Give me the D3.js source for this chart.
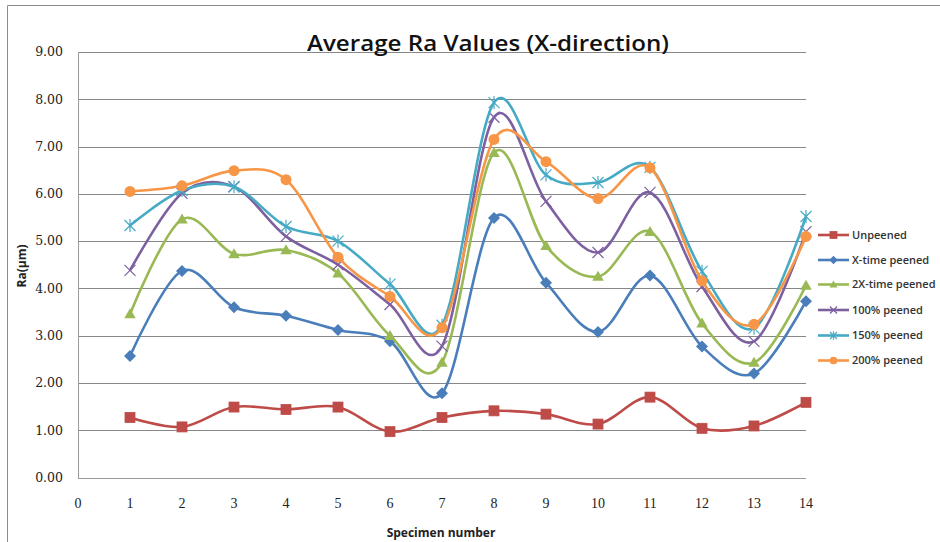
<!DOCTYPE html>
<html>
<head>
<meta charset="utf-8">
<script src="https://cdn.jsdelivr.net/npm/d3@7"></script>
<style>
  html, body { margin: 0; padding: 0; background: #fff; }
  svg { display: block; }
</style>
</head>
<body>
<svg id="chart" width="940" height="542"></svg>
<script>
// ---- data ----
const specimens = [1, 2, 3, 4, 5, 6, 7, 8, 9, 10, 11, 12, 13, 14];
const xTicks = [0, 1, 2, 3, 4, 5, 6, 7, 8, 9, 10, 11, 12, 13, 14];
const yTicks = [0, 1, 2, 3, 4, 5, 6, 7, 8, 9];
const seriesNames = ["Unpeened", "X-time peened", "2X-time peened", "100% peened", "150% peened", "200% peened"];
const unpeened   = [1.27, 1.07, 1.49, 1.44, 1.49, 0.97, 1.27, 1.41, 1.34, 1.13, 1.70, 1.04, 1.09, 1.59];
const xTime      = [2.57, 4.37, 3.60, 3.42, 3.12, 2.88, 1.78, 5.49, 4.12, 3.08, 4.27, 2.77, 2.20, 3.73];
const x2Time     = [3.46, 5.46, 4.73, 4.81, 4.32, 3.00, 2.43, 6.87, 4.90, 4.25, 5.20, 3.26, 2.43, 4.06];
const p100       = [4.38, 6.01, 6.15, 5.10, 4.50, 3.66, 2.78, 7.62, 5.84, 4.76, 6.03, 4.04, 2.88, 5.20];
const p150       = [5.33, 6.07, 6.15, 5.31, 5.00, 4.09, 3.22, 7.93, 6.40, 6.24, 6.56, 4.36, 3.16, 5.52];
const p200       = [6.05, 6.17, 6.49, 6.30, 4.66, 3.83, 3.17, 7.15, 6.68, 5.90, 6.55, 4.16, 3.24, 5.10];
const seriesValues = [unpeened, xTime, x2Time, p100, p150, p200];
const colors = ["#BE4B48", "#4A7EBB", "#98B954", "#7D60A0", "#46AAC5", "#F79646"];
const markers = ["square", "diamond", "triangle", "x", "asterisk", "circle"];

// ---- layout ----
const svg = d3.select("#chart");
const x = d3.scaleLinear().domain([0, 14]).range([78, 806]);
const y = d3.scaleLinear().domain([0, 9]).range([477.5, 52]);

// outer frame
svg.append("path").attr("d", "M7.5,542 L7.5,5.5 L940,5.5")
  .attr("fill", "none").attr("stroke", "#8c8c8c").attr("stroke-width", 1);

// gridlines
svg.append("g").selectAll("line").data(yTicks).join("line")
  .attr("x1", x(0)).attr("x2", x(14))
  .attr("y1", d => Math.round(y(d)) + 0.5).attr("y2", d => Math.round(y(d)) + 0.5)
  .attr("stroke", d => d === 0 ? "#9a9a9a" : "#878787").attr("stroke-width", 1);

// y axis line
svg.append("line").attr("x1", 78.5).attr("x2", 78.5).attr("y1", y(9)).attr("y2", y(0) + 0.5)
  .attr("stroke", "#9a9a9a").attr("stroke-width", 1);

// y tick labels
svg.append("g").selectAll("text").data(yTicks).join("text")
  .attr("x", 63).attr("y", d => y(d)).attr("dy", "0.35em")
  .attr("text-anchor", "end")
  .attr("font-family", "DejaVu Serif").attr("font-size", 12.5).attr("fill", "#222")
  .text(d => d3.format(".2f")(d));

// x tick labels
svg.append("g").selectAll("text").data(xTicks).join("text")
  .attr("x", d => x(d)).attr("y", 503).attr("dy", "0.35em")
  .attr("text-anchor", "middle")
  .attr("font-family", "Liberation Serif").attr("font-size", 14).attr("fill", "#222")
  .text(d => d);

// title
svg.append("text").attr("x", 488).attr("y", 51)
  .attr("text-anchor", "middle")
  .attr("font-family", "Open Sans").attr("font-weight", 600).attr("font-size", 22)
  .attr("textLength", 362).attr("lengthAdjust", "spacingAndGlyphs")
  .attr("fill", "#111")
  .text("Average Ra Values (X-direction)");

// axis titles
svg.append("text").attr("transform", "translate(26,266) rotate(-90)")
  .attr("text-anchor", "middle")
  .attr("font-family", "Open Sans").attr("font-weight", 700).attr("font-size", 12)
  .attr("fill", "#222").text("Ra(µm)");
svg.append("text").attr("x", 441).attr("y", 537)
  .attr("text-anchor", "middle")
  .attr("font-family", "Open Sans").attr("font-weight", 700).attr("font-size", 12)
  .attr("fill", "#222").text("Specimen number");

// marker drawing
function drawMarker(g, type, color, s) {
  const h = s / 2;
  if (type === "square") {
    g.append("rect").attr("x", -h).attr("y", -h).attr("width", s).attr("height", s)
      .attr("fill", color).attr("stroke", color).attr("stroke-width", 0.8);
  } else if (type === "diamond") {
    g.append("path").attr("d", `M0,${-h * 1.2}L${h * 1.2},0L0,${h * 1.2}L${-h * 1.2},0Z`)
      .attr("fill", color);
  } else if (type === "triangle") {
    g.append("path").attr("d", `M0,${-h * 1.15}L${h * 1.15},${h * 0.85}L${-h * 1.15},${h * 0.85}Z`)
      .attr("fill", color);
  } else if (type === "x") {
    g.append("path").attr("d", `M${-h},${-h}L${h},${h}M${-h},${h}L${h},${-h}`)
      .attr("stroke", color).attr("stroke-width", 1.2).attr("fill", "none");
  } else if (type === "asterisk") {
    g.append("path").attr("d", `M${-h},${-h}L${h},${h}M${-h},${h}L${h},${-h}M0,${-h * 1.2}L0,${h * 1.2}`)
      .attr("stroke", color).attr("stroke-width", 1.2).attr("fill", "none");
  } else if (type === "circle") {
    g.append("circle").attr("r", h * 1.1).attr("fill", color);
  }
}

const line = d3.line()
  .x((d, i) => x(specimens[i]))
  .y(d => y(d))
  .curve(d3.curveCatmullRom.alpha(0));

// draw series (unpeened first), then markers
const order = [0, 1, 2, 3, 4, 5];
order.forEach(si => {
  svg.append("path").datum(seriesValues[si])
    .attr("d", line)
    .attr("fill", "none")
    .attr("stroke", colors[si])
    .attr("stroke-width", 2.6)
    .attr("stroke-linejoin", "round");
  const mg = svg.append("g");
  seriesValues[si].forEach((v, i) => {
    const g = mg.append("g").attr("transform", `translate(${x(specimens[i])},${y(v)})`);
    drawMarker(g, markers[si], colors[si], markers[si] === "x" || markers[si] === "asterisk" ? 11 : 10);
  });
});

// legend
const legendY = [235, 260, 284.5, 310, 335.5, 360.5];
const lg = svg.append("g");
seriesNames.forEach((name, i) => {
  const ly = legendY[i];
  lg.append("line").attr("x1", 818).attr("x2", 849).attr("y1", ly).attr("y2", ly)
    .attr("stroke", colors[i]).attr("stroke-width", 2.6);
  const g = lg.append("g").attr("transform", `translate(833.5,${ly})`);
  drawMarker(g, markers[i], colors[i], 7);
  lg.append("text").attr("x", 852).attr("y", ly).attr("dy", "0.35em")
    .attr("font-family", "Open Sans").attr("font-weight", 600).attr("font-size", 11)
    .attr("fill", "#333").text(name);
});
</script>
</body>
</html>
